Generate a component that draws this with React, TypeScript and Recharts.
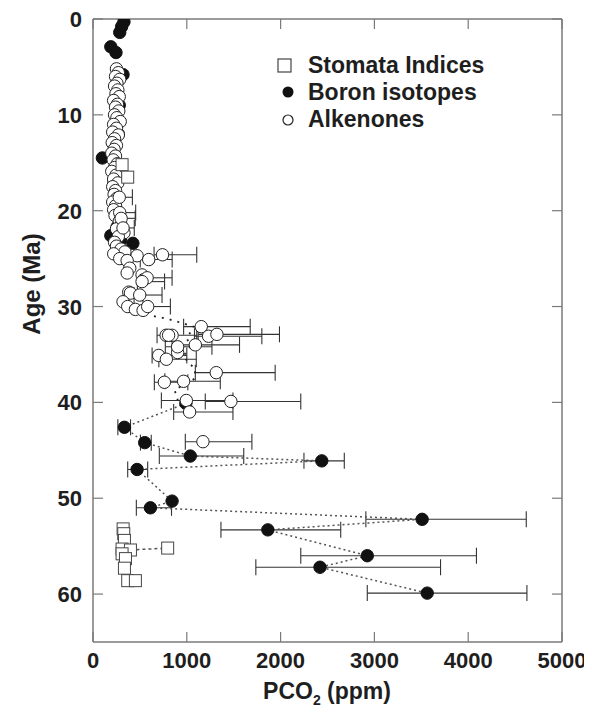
import React from 'react';
import { ScatterChart, Scatter, XAxis, YAxis, ErrorBar, ReferenceLine, Legend } from 'recharts';

// ---- Data: [age (Ma), PCO2 (ppm)] and [age, PCO2, errLow, errHigh] ----
const xTicks = [0, 1000, 2000, 3000, 4000, 5000];
const yTicks = [0, 10, 20, 30, 40, 50, 60];

const boronPlain: [number, number][] = [
  [0.3, 330], [0.8, 305], [1.4, 285], [2.9, 190], [3.5, 245], [5.8, 320], [9.0, 280],
  [12.0, 270], [14.5, 100], [17.2, 221], [19.0, 240], [21.7, 257], [22.6, 190],
  [23.1, 293], [23.4, 425], [40.1, 990], [50.3, 843],
];
const boronErr: [number, number, number, number][] = [
  [42.6, 335, 70, 65], [44.2, 551, 45, 70], [45.6, 1037, 330, 570], [46.1, 2439, 190, 240],
  [47.0, 470, 100, 113], [51.0, 612, 150, 225], [52.2, 3509, 600, 1110], [53.3, 1864, 500, 777],
  [56.0, 2924, 709, 1164], [57.2, 2420, 684, 1285], [59.9, 3563, 639, 1063],
];
const boronTrend: [number, number][] = [
  [40.1, 990], [42.6, 335], [44.2, 551], [45.6, 1037], [46.1, 2439], [47.0, 470], [50.3, 843],
  [51.0, 612], [52.2, 3509], [53.3, 1864], [56.0, 2924], [57.2, 2420], [59.9, 3563],
];
const alkTrend: [number, number][] = [
  [31.0, 650], [31.3, 800], [31.7, 940], [32.1, 1075], [33.3, 1000], [34.2, 1040], [35.2, 960],
  [36.5, 1085], [37.5, 1090], [38.7, 870], [40.3, 920],
];

const alkPlain: [number, number][] = [
  [5.2, 250], [5.6, 270], [6.0, 240], [6.3, 285], [6.7, 255], [7.0, 230], [7.4, 265], [7.8, 245],
  [8.1, 280], [8.5, 220], [8.9, 260], [9.2, 240], [9.6, 275], [10.0, 230], [10.3, 255], [10.7, 290],
  [11.0, 220], [11.4, 250], [11.8, 210], [12.1, 270], [12.5, 230], [12.9, 205], [13.2, 250],
  [13.6, 225], [14.0, 200], [14.3, 240], [14.7, 215], [15.1, 260], [15.5, 230], [15.9, 200],
  [16.3, 245], [16.7, 220], [17.1, 265], [17.5, 210], [17.9, 240], [18.3, 225], [18.7, 255],
  [19.1, 210], [19.5, 240], [19.9, 220], [20.5, 235], [21.1, 280], [21.5, 300], [21.9, 250],
  [22.3, 330], [22.7, 270], [23.3, 230], [23.7, 250], [24.0, 300], [24.3, 340], [24.5, 221],
  [24.7, 470], [25.0, 285], [25.2, 364], [26.0, 392], [26.5, 364], [26.7, 523], [27.2, 540],
  [28.5, 381], [28.6, 399], [29.5, 320], [30.0, 370], [30.3, 452], [30.4, 534], [33.0, 780],
  [33.0, 843], [34.8, 902],
];
const alkErr: [number, number, number, number][] = [
  [18.6, 280, 60, 140], [20.2, 285, 60, 170], [20.8, 300, 70, 150], [21.8, 320, 60, 120],
  [24.6, 741, 90, 365], [25.1, 594, 90, 250], [27.0, 577, 60, 266], [27.4, 523, 50, 240],
  [28.8, 498, 60, 238], [30.0, 583, 50, 242], [32.1, 1154, 188, 522], [33.0, 806, 123, 300],
  [33.1, 1232, 150, 568], [32.9, 1321, 200, 667], [34.0, 1091, 248, 471], [34.2, 902, 131, 366],
  [35.1, 700, 70, 300], [35.5, 782, 80, 319], [36.9, 1314, 223, 628], [37.9, 761, 107, 250],
  [37.8, 966, 200, 391], [39.8, 995, 266, 497], [39.9, 1470, 273, 745], [41.0, 1030, 170, 462],
  [44.1, 1172, 188, 522],
];

const stomata: [number, number][] = [
  [15.2, 310], [16.5, 370], [53.2, 321], [53.7, 328], [54.4, 335], [55.3, 310], [55.4, 399],
  [55.8, 310], [56.3, 346], [57.3, 335], [58.6, 370], [58.6, 452], [55.2, 796],
];
const stomataTrend: [number, number][] = [[55.4, 399], [55.2, 796]];

const toPts = (a: [number, number][]) => a.map(([y, x]) => ({ x, y }));
const toErrPts = (a: [number, number, number, number][]) =>
  a.map(([y, x, lo, hi]) => ({ x, y, err: [lo, hi] }));

// ---- layout constants ----
const W = 584;
const H = 700;
const PLOT_W = 469;
const PLOT_H = 623;
const FONT = 'Liberation Sans, Arial, Helvetica, sans-serif';
const FRAME = '#7a7a7a';
const TXT = '#1e1e1e';

const FilledDot = (p: any) => <circle cx={p.cx} cy={p.cy} r={6.2} fill="#111" stroke="#111" strokeWidth={1} />;
const OpenDot = (p: any) => <circle cx={p.cx} cy={p.cy} r={6.2} fill="#fff" stroke="#222" strokeWidth={1} />;
const OpenSq = (p: any) => (
  <rect x={p.cx - 6} y={p.cy - 6} width={12} height={12} fill="#fff" stroke="#444" strokeWidth={1} />
);
const NoDot = () => <g />;

const XTick = (p: any) => {
  const { x, y, payload } = p;
  return (
    <g>
      <line x1={x} y1={y} x2={x} y2={y - 10} stroke={FRAME} strokeWidth={1.2} />
      <line x1={x} y1={y - PLOT_H} x2={x} y2={y - PLOT_H + 10} stroke={FRAME} strokeWidth={1.2} />
      <text x={x} y={y + 26} textAnchor="middle" fontFamily={FONT} fontWeight="bold" fontSize={22} fill={TXT}>
        {payload.value}
      </text>
    </g>
  );
};

const YTick = (p: any) => {
  const { x, y, payload } = p;
  return (
    <g>
      <line x1={x} y1={y} x2={x + 10} y2={y} stroke={FRAME} strokeWidth={1.2} />
      <line x1={x + PLOT_W} y1={y} x2={x + PLOT_W - 10} y2={y} stroke={FRAME} strokeWidth={1.2} />
      <text x={x - 11} y={y + 8} textAnchor="end" fontFamily={FONT} fontWeight="bold" fontSize={22} fill={TXT}>
        {payload.value}
      </text>
    </g>
  );
};

const AgeTitle = () => (
  <text
    x={23}
    y={276}
    transform="rotate(-90 23 276)"
    textAnchor="middle"
    dominantBaseline="central"
    fontFamily={FONT}
    fontWeight="bold"
    fontSize={24}
    fill={TXT}
  >
    Age (Ma)
  </text>
);

const PcoTitle = () => (
  <text x={319} y={691} textAnchor="middle" fontFamily={FONT} fontWeight="bold" fontSize={23} fill={TXT}>
    PCO<tspan dy={6} fontSize={14}>2</tspan>
    <tspan dy={-6}> (ppm)</tspan>
  </text>
);

const LegendBox = () => (
  <svg width={250} height={90} style={{ display: 'block' }}>
    <rect x={8} y={9} width={13} height={13} fill="#fff" stroke="#444" strokeWidth={1.2} />
    <text x={38} y={23} fontFamily={FONT} fontWeight="bold" fontSize={23} fill={TXT}>Stomata Indices</text>
    <circle cx={18} cy={42} r={5.5} fill="#111" />
    <text x={38} y={50} fontFamily={FONT} fontWeight="bold" fontSize={23} fill={TXT}>Boron isotopes</text>
    <circle cx={18} cy={70} r={5} fill="#fff" stroke="#222" strokeWidth={1.2} />
    <text x={38} y={77} fontFamily={FONT} fontWeight="bold" fontSize={23} fill={TXT}>Alkenones</text>
  </svg>
);

export default function App() {
  return (
    <div style={{ width: W, height: H }}>
      <ScatterChart width={W} height={H} margin={{ top: 11, right: 30, bottom: 0, left: 0 }}>
        <XAxis
          type="number"
          dataKey="x"
          domain={[0, 5000]}
          ticks={xTicks}
          allowDataOverflow
          height={66}
          tickSize={0}
          tickMargin={0}
          tick={<XTick />}
          tickLine={false}
          axisLine={{ stroke: FRAME, strokeWidth: 1.5 }}
          label={<PcoTitle />}
        />
        <YAxis
          type="number"
          dataKey="y"
          domain={[0, 65]}
          reversed
          ticks={yTicks}
          allowDataOverflow
          width={85}
          tickSize={0}
          tickMargin={0}
          tick={<YTick />}
          tickLine={false}
          axisLine={{ stroke: FRAME, strokeWidth: 1.5 }}
          label={<AgeTitle />}
        />
        <ReferenceLine y={0} stroke={FRAME} strokeWidth={1.5} />
        <ReferenceLine x={5000} stroke={FRAME} strokeWidth={1.5} />
        <Legend
          layout="vertical"
          align="center"
          verticalAlign="middle"
          content={<LegendBox />}
          wrapperStyle={{ top: 42, left: 262, width: 250, height: 90 }}
        />
        <Scatter
          data={toPts(alkTrend)}
          shape={NoDot}
          line={{ stroke: '#222', strokeWidth: 1.8, strokeDasharray: '2 6' }}
          isAnimationActive={false}
        />
        <Scatter
          data={toPts(boronTrend)}
          shape={NoDot}
          line={{ stroke: '#555', strokeWidth: 1.5, strokeDasharray: '2 3' }}
          isAnimationActive={false}
        />
        <Scatter
          data={toPts(stomataTrend)}
          shape={NoDot}
          line={{ stroke: '#555', strokeWidth: 1.5, strokeDasharray: '3 3' }}
          isAnimationActive={false}
        />
        <Scatter data={toPts(boronPlain)} shape={FilledDot} isAnimationActive={false} />
        <Scatter data={toErrPts(boronErr)} shape={FilledDot} isAnimationActive={false}>
          <ErrorBar dataKey="err" direction="x" width={8} stroke="#333" strokeWidth={1.1} />
        </Scatter>
        <Scatter data={toPts(alkPlain)} shape={OpenDot} isAnimationActive={false} />
        <Scatter data={toErrPts(alkErr)} shape={OpenDot} isAnimationActive={false}>
          <ErrorBar dataKey="err" direction="x" width={8} stroke="#333" strokeWidth={1.1} />
        </Scatter>
        <Scatter data={toPts(stomata)} shape={OpenSq} isAnimationActive={false} />
      </ScatterChart>
    </div>
  );
}
